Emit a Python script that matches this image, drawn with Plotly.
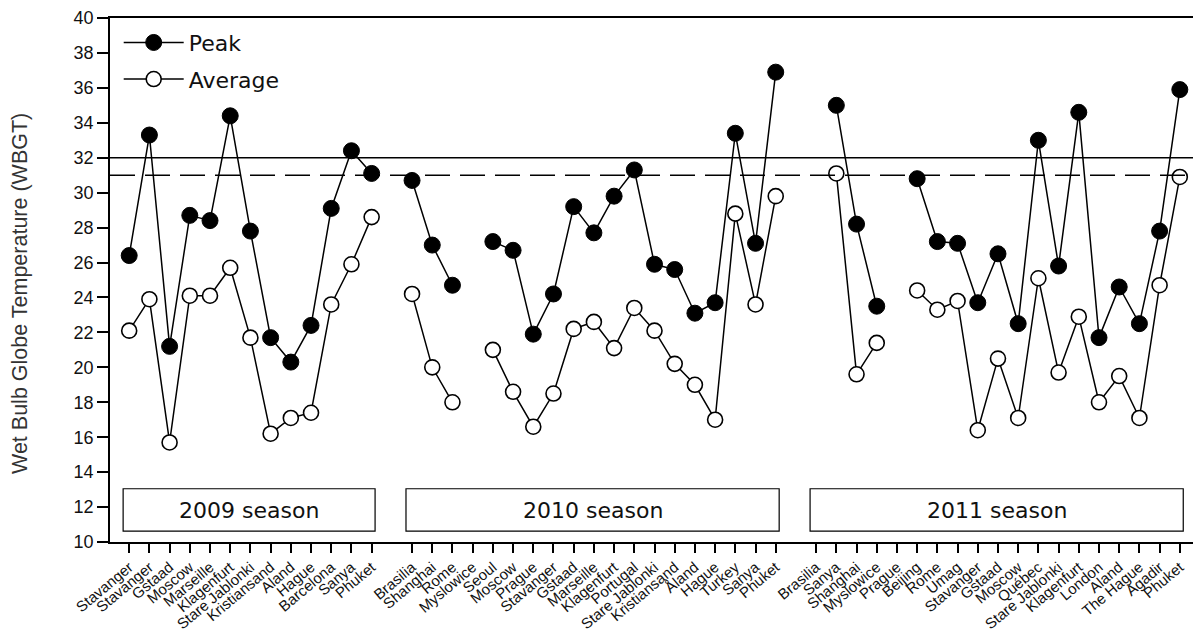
import plotly.graph_objects as go

# ---------------- data ----------------
seasons = ["2009 season", "2010 season", "2011 season"]

sites_2009 = ["Stavanger", "Stavanger", "Gstaad", "Moscow", "Marseille", "Klagenfurt",
              "Stare Jablonki", "Kristiansand", "Aland", "Hague", "Barcelona", "Sanya", "Phuket"]
peak_2009 = [26.4, 33.3, 21.2, 28.7, 28.4, 34.4, 27.8, 21.7, 20.3, 22.4, 29.1, 32.4, 31.1]
avg_2009 = [22.1, 23.9, 15.7, 24.1, 24.1, 25.7, 21.7, 16.2, 17.1, 17.4, 23.6, 25.9, 28.6]

sites_2010 = ["Brasilia", "Shanghai", "Rome", "Myslowice", "Seoul", "Moscow", "Prague",
              "Stavanger", "Gstaad", "Marseille", "Klagenfurt", "Portugal", "Stare Jablonki",
              "Kristiansand", "Åland", "Hague", "Turkey", "Sanya", "Phuket"]
peak_2010 = [30.7, 27.0, 24.7, None, 27.2, 26.7, 21.9, 24.2, 29.2, 27.7, 29.8, 31.3, 25.9,
             25.6, 23.1, 23.7, 33.4, 27.1, 36.9]
avg_2010 = [24.2, 20.0, 18.0, None, 21.0, 18.6, 16.6, 18.5, 22.2, 22.6, 21.1, 23.4, 22.1,
            20.2, 19.0, 17.0, 28.8, 23.6, 29.8]

sites_2011 = ["Brasilia", "Sanya", "Shanghai", "Myslowice", "Prague", "Beijing", "Rome",
              "Umag", "Stavanger", "Gstaad", "Moscow", "Québec", "Stare Jablonki",
              "Klagenfurt", "London", "Aland", "The Hague", "Agadir", "Phuket"]
peak_2011 = [None, 35.0, 28.2, 23.5, None, 30.8, 27.2, 27.1, 23.7, 26.5, 22.5, 33.0, 25.8,
             34.6, 21.7, 24.6, 22.5, 27.8, 35.9]
avg_2011 = [None, 31.1, 19.6, 21.4, None, 24.4, 23.3, 23.8, 16.4, 20.5, 17.1, 25.1, 19.7,
            22.9, 18.0, 19.5, 17.1, 24.7, 30.9]

limit_solid = 32
limit_dashed = 31
y_ticks = list(range(10, 41, 2))

site_lists = [sites_2009, sites_2010, sites_2011]
peak_lists = [peak_2009, peak_2010, peak_2011]
avg_lists = [avg_2009, avg_2010, avg_2011]

# ---------------- build positions (one empty slot between seasons) ----------------
tickvals, ticktext = [], []
x_all, peak_all, avg_all = [], [], []
season_spans = []
pos = 0
for k, sites in enumerate(site_lists):
    start = pos
    for i, s in enumerate(sites):
        tickvals.append(pos)
        ticktext.append(s)
        x_all.append(pos)
        peak_all.append(peak_lists[k][i])
        avg_all.append(avg_lists[k][i])
        pos += 1
    season_spans.append((start, pos - 1))
    x_all.append(pos)
    peak_all.append(None)
    avg_all.append(None)
    pos += 1

fig = go.Figure()
fig.add_trace(go.Scatter(
    x=x_all, y=peak_all, name="Peak", mode="lines+markers", connectgaps=False,
    legendgroup="p",
    line=dict(color="black", width=1.5),
    marker=dict(symbol="circle", size=16, color="black", line=dict(color="black", width=1)),
))
fig.add_trace(go.Scatter(
    x=x_all, y=avg_all, name="Average", mode="lines+markers", connectgaps=False,
    legendgroup="a",
    line=dict(color="black", width=1.5),
    marker=dict(symbol="circle", size=15, color="white", line=dict(color="black", width=1.6)),
))

# reference lines
fig.add_shape(type="line", xref="paper", yref="y", x0=0, x1=1, y0=limit_solid, y1=limit_solid,
              line=dict(color="black", width=1.6))
fig.add_shape(type="line", xref="paper", yref="y", x0=0, x1=1, y0=limit_dashed, y1=limit_dashed,
              line=dict(color="black", width=1.6, dash="25px,10px"))

# season boxes
for (a, b), label in zip(season_spans, seasons):
    fig.add_shape(type="rect", xref="x", yref="y", x0=a - 0.3, x1=b + 0.17, y0=10.62, y1=13.05,
                  line=dict(color="black", width=1.2), fillcolor="white", layer="above")
    fig.add_annotation(x=(a - 0.3 + b + 0.17) / 2, y=11.8, xref="x", yref="y", text=label,
                       showarrow=False, font=dict(family="DejaVu Sans", size=22, color="#111"))

# y-axis title
fig.add_annotation(x=0, y=0.5, xref="paper", yref="paper", xshift=-90, yshift=-14,
                   textangle=-90, xanchor="center", yanchor="middle",
                   text="Wet Bulb Globe Temperature (WBGT)", showarrow=False,
                   font=dict(family="Liberation Sans, Arial", size=21.5, color="#333"))

# page body has an 8px margin, so the figure is sized/offset to compensate
fig.update_layout(
    width=1193, height=633,
    margin=dict(l=102, r=3, t=10, b=99),
    paper_bgcolor="white", plot_bgcolor="white",
    showlegend=True,
    legend=dict(x=0.008, y=0.993, xanchor="left", yanchor="top", bgcolor="rgba(0,0,0,0)",
                font=dict(family="DejaVu Sans", size=22, color="#111"), tracegroupgap=5,
                itemwidth=60),
)
fig.update_xaxes(
    range=[-0.95, 52.9], tickmode="array", tickvals=tickvals, ticktext=ticktext,
    tickangle=-40, ticks="outside", ticklen=9, tickwidth=1.5, tickcolor="black",
    tickfont=dict(family="Liberation Sans, Arial", size=15, color="#111"),
    showline=True, linecolor="black", linewidth=1.5, mirror=True, showgrid=False, zeroline=False,
    automargin=False,
)
fig.update_yaxes(
    range=[10, 40], tickmode="array", tickvals=y_ticks,
    ticks="outside", ticklen=11, tickwidth=1.5, tickcolor="black",
    tickfont=dict(family="Liberation Sans, Arial", size=18, color="#111"),
    showline=True, linecolor="black", linewidth=1.5, mirror=True, showgrid=False, zeroline=False,
    automargin=False,
)

fig.write_html("out.html")
